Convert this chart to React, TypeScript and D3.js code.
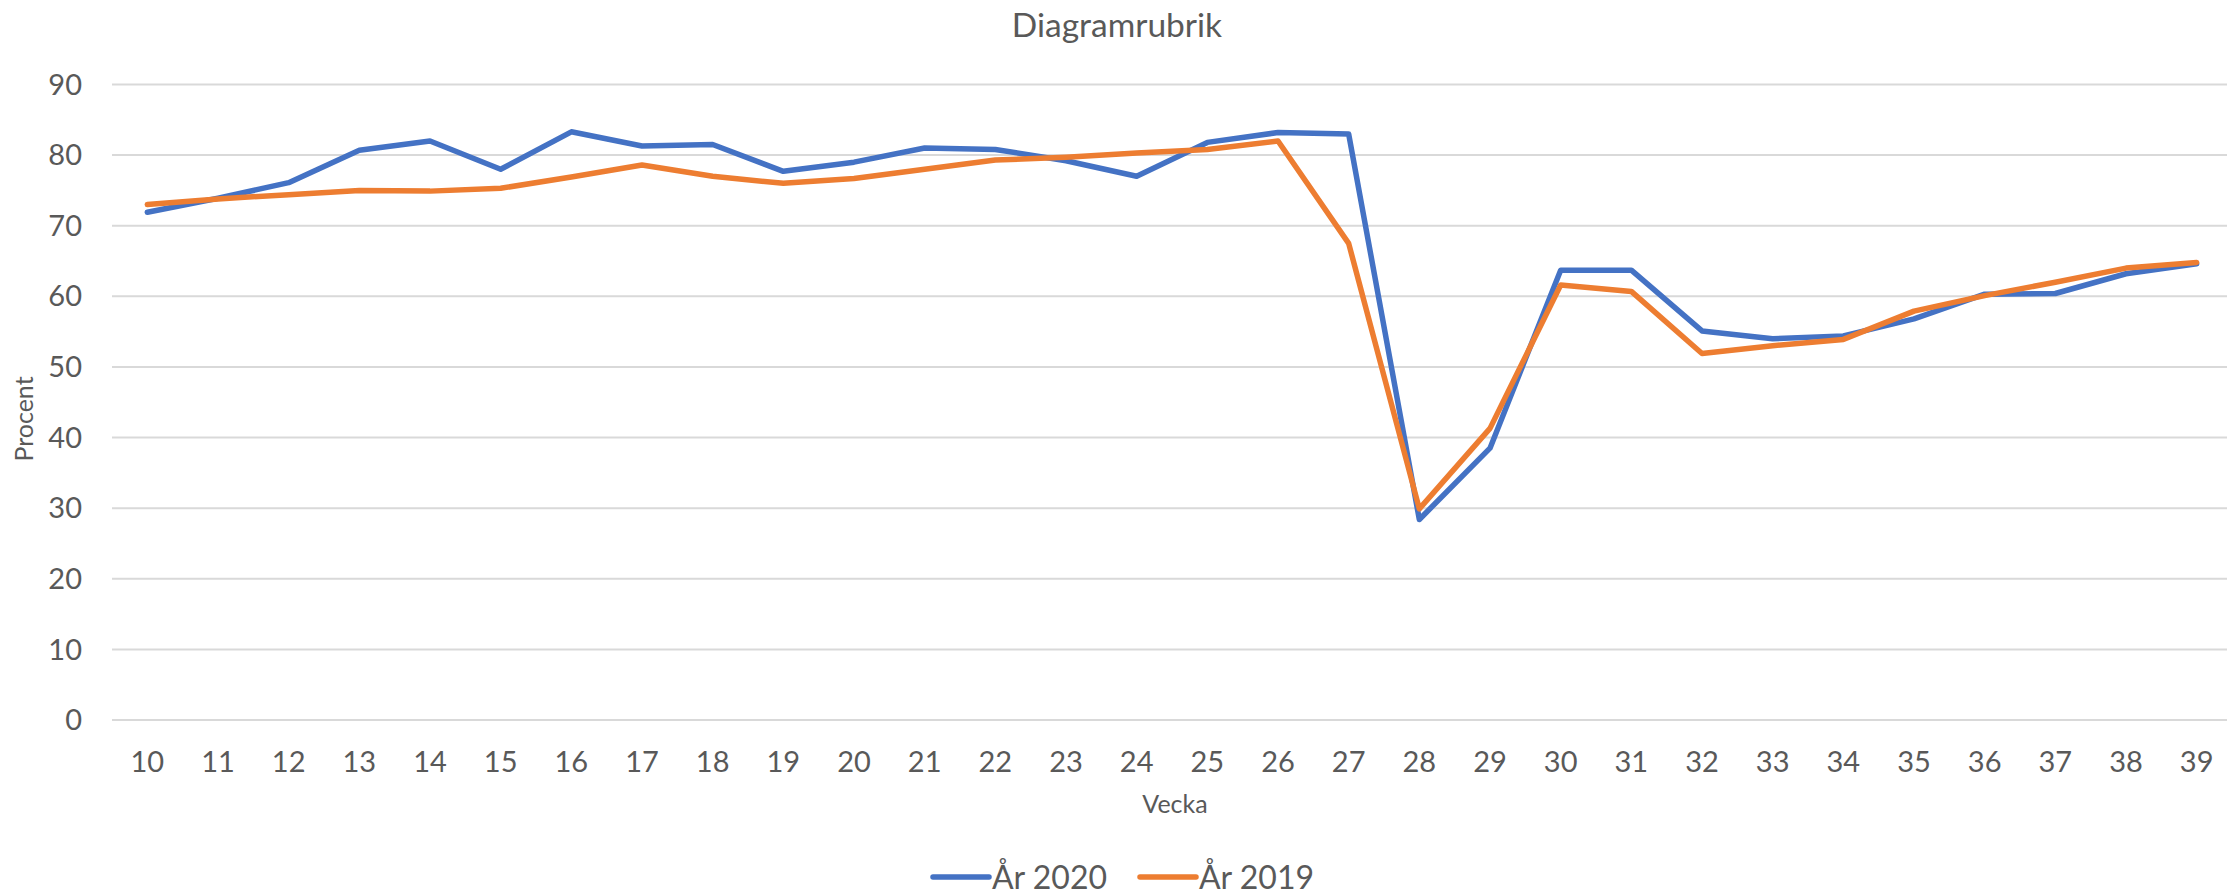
import React from "react";
import * as d3 from "d3";

const weeks = [10,11,12,13,14,15,16,17,18,19,20,21,22,23,24,25,26,27,28,29,30,31,32,33,34,35,36,37,38,39];
const year2020 = [71.9,73.9,76.1,80.7,82.0,78.0,83.3,81.3,81.5,77.7,79.0,81.0,80.8,79.2,77.0,81.8,83.2,83.0,28.4,38.5,63.7,63.7,55.1,54.0,54.4,56.8,60.3,60.4,63.2,64.6];
const year2019 = [73.0,73.8,74.4,75.0,74.9,75.3,76.9,78.6,77.0,76.0,76.7,78.0,79.3,79.7,80.3,80.8,82.0,67.5,29.9,41.3,61.6,60.7,51.9,53.0,53.9,57.9,60.1,62.0,64.0,64.8];
const yTicks = [0,10,20,30,40,50,60,70,80,90];
const seriesNames = ["År 2020", "År 2019"];
const seriesColors = ["#4472C4", "#ED7D31"];
const title = "Diagramrubrik";
const xTitle = "Vecka";
const yTitle = "Procent";

const W = 2227, H = 896;
const FONT = "Lato, 'Open Sans', sans-serif";
const TXT = "#595959";

export default function App() {
  const x = d3.scaleBand<number>().domain(weeks).range([112, 2232]).padding(0);
  const y = d3.scaleLinear().domain([0, 90]).range([720, 84.5]);
  const cx = (w: number) => (x(w) as number) + x.bandwidth() / 2;
  const line = d3.line<number>().x((_, i) => cx(weeks[i])).y((v) => y(v));
  const series = [year2020, year2019];

  return (
    <svg width={W} height={H} style={{ position: "absolute", left: 0, top: 0, background: "#fff" }} fontFamily={FONT}>
      <rect x={0} y={0} width={W} height={H} fill="#fff" />
      <text x={1117} y={37} textAnchor="middle" fontSize={33.5} fill={TXT}>{title}</text>
      {yTicks.map((t) => (
        <g key={t}>
          <line x1={112} x2={W} y1={y(t)} y2={y(t)} stroke="#D9D9D9" strokeWidth={2} />
          <text x={82} y={y(t)} dy="0.35em" textAnchor="end" fontSize={29} fill={TXT}>{t}</text>
        </g>
      ))}
      {weeks.map((w) => (
        <text key={w} x={cx(w)} y={771.5} textAnchor="middle" fontSize={29} fill={TXT}>{w}</text>
      ))}
      <text x={1175} y={813} textAnchor="middle" fontSize={25} fill={TXT}>{xTitle}</text>
      <text transform={`translate(33,419) rotate(-90)`} textAnchor="middle" fontSize={25} fill={TXT}>{yTitle}</text>
      {series.map((s, i) => (
        <path key={i} d={line(s) || ""} fill="none" stroke={seriesColors[i]} strokeWidth={5.5} strokeLinejoin="round" strokeLinecap="round" />
      ))}
      {seriesNames.map((n, i) => {
        const lx = [933, 1140][i];
        return (
          <g key={n}>
            <line x1={lx} x2={lx + 56} y1={877} y2={877} stroke={seriesColors[i]} strokeWidth={5.5} strokeLinecap="round" />
            <text x={lx + 59} y={877} dy="0.36em" fontSize={32} fill={TXT}>{n}</text>
          </g>
        );
      })}
    </svg>
  );
}
